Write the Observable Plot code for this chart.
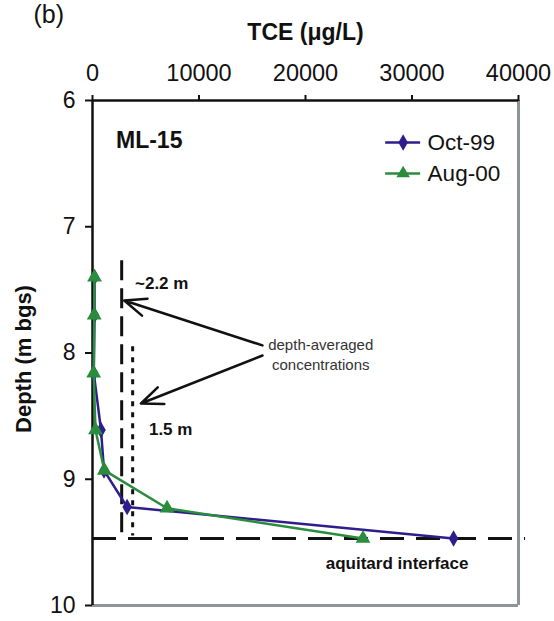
<!DOCTYPE html>
<html><head><meta charset="utf-8">
<script src="https://cdn.jsdelivr.net/npm/d3@7"></script>
<script src="https://cdn.jsdelivr.net/npm/@observablehq/plot@0.6"></script>
<style>
body{margin:0;background:#fff;}
</style></head><body><div id="chart"></div>
<script>
// ---- data ----
const xTicks = [0, 10000, 20000, 30000, 40000];
const yTicks = [6, 7, 8, 9, 10];
const seriesNames = ["Oct-99", "Aug-00"];
const depthOct99 = [7.40, 7.70, 8.16, 8.61, 8.93, 9.22, 9.47];
const tceOct99   = [190, 190, 120, 800, 1080, 3250, 33900];
const depthAug00 = [7.40, 7.70, 8.16, 8.61, 8.93, 9.23, 9.47];
const tceAug00   = [190, 160, 110, 280, 1120, 7000, 25400];
const aquitardDepth = 9.47;
const avgTce22 = 2740;   // ~2.2 m depth-averaged concentration
const avgTce15 = 3770;   // 1.5 m depth-averaged concentration
const avgTop22 = 7.27, avgTop15 = 7.95, avgBottom = 9.45;
const arrowTailX = 15960, arrowTailY = [7.94, 8.02];
const arrowTipX = [2980, 4550], arrowTipY = [7.584, 8.40];

const purple = "#2f1d8c", green = "#2a8c3c", gray = "#8f9499";
const fontFamily = '"Liberation Sans", Arial, Helvetica, sans-serif';

const oct = depthOct99.map((d, i) => ({depth: d, tce: tceOct99[i]}));
const aug = depthAug00.map((d, i) => ({depth: d, tce: tceAug00[i]}));
const arrows = arrowTipX.map((x, i) => ({x1: arrowTailX, y1: arrowTailY[i], x2: x, y2: arrowTipY[i]}));
const legend = [
  {name: seriesNames[0], color: purple, symbol: "diamond", y: 6.333},
  {name: seriesNames[1], color: green, symbol: "triangle", y: 6.578}
];
const legX1 = 27527, legX2 = 30809, legXm = 29168, legXt = 31466;

const chart = Plot.plot({
  width: 554, height: 621,
  marginLeft: 92, marginRight: 36, marginTop: 100, marginBottom: 16,
  style: {fontFamily, color: "#111", background: "#fff"},
  x: {domain: [0, 40000]},
  y: {domain: [6, 10], reverse: true},
  marks: [
    Plot.ruleX([40000], {stroke: gray, strokeWidth: 3}),
    Plot.ruleY([10], {stroke: gray, strokeWidth: 3}),
    Plot.axisX(xTicks, {anchor: "top", tickSize: 6, tickPadding: 14, fontSize: 23.5, strokeWidth: 2, label: null, tickFormat: d3.format("d"), fill: "#111"}),
    Plot.axisY(yTicks, {anchor: "left", tickSize: 7, tickPadding: 10, fontSize: 23, strokeWidth: 2, label: null, tickFormat: d3.format("d"), fill: "#111"}),
    Plot.ruleX([0], {stroke: "#111", strokeWidth: 2.5}),
    Plot.ruleY([6], {stroke: "#111", strokeWidth: 2.5}),
    // depth-averaged concentration lines
    Plot.ruleX([avgTce22], {y1: avgTop22, y2: avgBottom, stroke: "#111", strokeWidth: 3, strokeDasharray: "20,8"}),
    Plot.ruleX([avgTce15], {y1: avgTop15, y2: avgBottom, stroke: "#111", strokeWidth: 3, strokeDasharray: "5,6"}),
    // aquitard interface
    Plot.ruleY([aquitardDepth], {x1: 0, x2: 40660, stroke: "#111", strokeWidth: 3, strokeDasharray: "24,12", clip: false}),
    // series
    Plot.line(oct, {x: "tce", y: "depth", stroke: purple, strokeWidth: 2.5}),
    Plot.dot(oct, {x: "tce", y: "depth", symbol: "diamond", fill: purple, r: 5}),
    Plot.line(aug, {x: "tce", y: "depth", stroke: green, strokeWidth: 2.5}),
    Plot.dot(aug, {x: "tce", y: "depth", symbol: "triangle", fill: green, r: 5.5}),
    // arrows
    Plot.arrow(arrows, {x1: "x1", y1: "y1", x2: "x2", y2: "y2", stroke: "#111", strokeWidth: 2.5, headLength: 14, headAngle: 45}),
    // annotations
    Plot.text(["~2.2 m"], {x: 3990, y: 7.45, textAnchor: "start", fontSize: 17, fontWeight: "bold", fill: "#111"}),
    Plot.text(["1.5 m"], {x: 5300, y: 8.61, textAnchor: "start", fontSize: 17, fontWeight: "bold", fill: "#111"}),
    Plot.text(["depth-averaged\nconcentrations"], {x: 21430, y: 8.005, textAnchor: "middle", fontSize: 15, lineHeight: 1.3, fill: "#333"}),
    Plot.text(["aquitard interface"], {x: 28600, y: 9.667, textAnchor: "middle", fontSize: 17, fontWeight: "bold", fill: "#111"}),
    Plot.text(["ML-15"], {x: 2204, y: 6.317, textAnchor: "start", fontSize: 23, fontWeight: "bold", fill: "#111"}),
    // legend
    Plot.ruleY(legend, {y: "y", x1: legX1, x2: legX2, stroke: "color", strokeWidth: 2.5}),
    Plot.dot(legend, {y: "y", x: legXm, symbol: "symbol", fill: "color", r: 5}),
    Plot.text(legend, {y: "y", x: legXt, text: "name", textAnchor: "start", fontSize: 22.5, fill: "#111"}),
    // titles
    Plot.text(["TCE (\u03bcg/L)"], {frameAnchor: "top", lineAnchor: "middle", textAnchor: "middle", dy: -68, fontSize: 23, fontWeight: "bold", fill: "#111"}),
    Plot.text(["(b)"], {frameAnchor: "top-left", lineAnchor: "middle", textAnchor: "start", dx: -59, dy: -86, fontSize: 25, fill: "#111"}),
    Plot.text(["Depth (m bgs)"], {frameAnchor: "left", lineAnchor: "middle", textAnchor: "middle", rotate: -90, dx: -69, dy: 6, fontSize: 22, fontWeight: "bold", fill: "#111"})
  ]
});
document.getElementById("chart").appendChild(chart);
</script></body></html>
